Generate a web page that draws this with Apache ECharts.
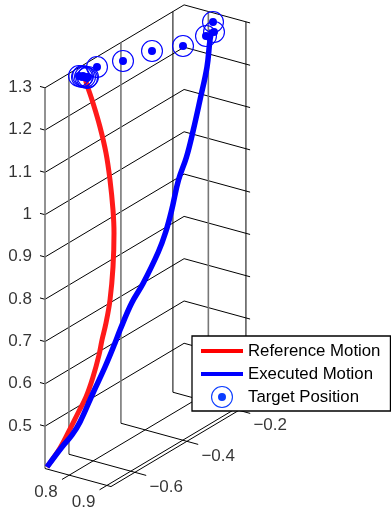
<!DOCTYPE html>
<html>
<head>
<meta charset="utf-8">
<script src="https://cdn.jsdelivr.net/npm/echarts@6/dist/echarts.min.js"></script>
<style>
html, body { margin: 0; padding: 0; background: #fff; }
#chart { width: 391px; height: 510px; }
</style>
</head>
<body>
<div id="chart"></div>
<script>
// axis ticks
var xTicks = [0.8, 0.9]
var yTicks = [-0.6, -0.4, -0.2]
var zTicks = [0.5, 0.6, 0.7, 0.8, 0.9, 1, 1.1, 1.2, 1.3]

// axis ranges of the 3d box
var xRange = [0.7355, 0.911]
var yRange = [-0.692, -0.157]
var zRange = [0.4, 1.3]

// traces in projected plane units
var referenceMotion = [[85, 78], [87, 85], [93, 103], [100, 127], [106, 153], [110, 180], [113, 210], [114, 233],
  [113, 267], [110, 300], [106, 323], [102, 340], [99, 355], [93, 377], [86, 397], [78, 413], [68, 433], [60, 448], [47, 467]]
var executedMotion = [[212, 30], [210, 40], [207, 67], [200, 100], [193.3, 130], [186.5, 157], [178.5, 180], [171.7, 210], [165.7, 232],
  [158.3, 252], [143.3, 283], [131.7, 303], [120, 330], [115, 343], [105, 367], [93, 393], [80, 422], [72, 435], [62, 447], [47, 467]]
var targetPosition = [[79, 76], [82, 77], [83, 76], [85, 77], [87, 78], [88, 77], [97, 67], [123, 61], [152, 51], [183, 46],
  [206, 36], [214, 32], [213, 22]]

// ring and dot, same shape on the chart and in the legend
var targetIcon = 'path://M11 0A11 11 0 0 1 11 22A11 11 0 0 1 11 0Z' +
  'M11 1.1A9.9 9.9 0 0 0 11 20.9A9.9 9.9 0 0 0 11 1.1Z' +
  'M11 7A4 4 0 0 1 11 15A4 4 0 0 1 11 7Z'

// legend stroke, the flat parts keep the row height the same as the ring
var lineIcon = 'path://M0 0H42H0Z M0 9H42V13H0Z M0 22H42H0Z'

// fixed view, same as the matlab figure
function project(x, y, z) {
  var dx = x - xRange[0]
  var dy = y - yRange[0]
  return [45 + dx * 376 + dy * 260, 468.5 + dx * 103 - dy * 155 - (z - zRange[0]) * 423]
}

function segment(points, color, width) {
  return {
    type: 'line',
    data: points,
    showSymbol: false,
    silent: true,
    lineStyle: { color: color || '#000', width: width || 1 },
    z: 1
  }
}

function tickLabels(items, position, align) {
  return {
    type: 'scatter',
    symbolSize: 0,
    silent: true,
    data: items,
    label: {
      show: true,
      position: position,
      align: align,
      verticalAlign: 'middle',
      fontFamily: 'Liberation Sans',
      fontSize: 17,
      color: '#000',
      formatter: function(p) {
        return String(p.value[2]).replace('-', '\u2212')
      }
    }
  }
}

var series = []

// horizontal lines on the two back walls
zTicks.forEach(function(z) {
  series.push(segment([
    project(xRange[0] - 0.0133, yRange[0], z),
    project(xRange[0], yRange[0], z),
    project(xRange[0], yRange[1], z),
    project(xRange[1], yRange[1], z)
  ]))
})

// verticals, the ones that landed between pixels look grey and wide in the figure
var grey = '#777'
series.push(segment([project(xRange[0], yRange[0], zRange[0]), project(xRange[0], yRange[0], zRange[1])], grey, 1.6))
yTicks.forEach(function(y) {
  var soft = y !== -0.2
  series.push(segment([project(xRange[0], y, zRange[0]), project(xRange[0], y, zRange[1])], soft ? grey : '#000', soft ? 1.6 : 1))
  series.push(segment([project(xRange[0], y, zRange[0]), project(xRange[1] + 0.03, y, zRange[0])]))
})
xTicks.forEach(function(x) {
  var soft = x === 0.8
  series.push(segment([project(x, yRange[1], zRange[1]), project(x, yRange[1], zRange[0])], soft ? grey : '#000', soft ? 1.6 : 1))
  series.push(segment([project(x, yRange[1], zRange[0]), project(x, yRange[0] - 0.028, zRange[0])]))
})

// floor edges
series.push(segment([project(xRange[0], yRange[0], zRange[0]), project(xRange[1], yRange[0], zRange[0]), project(xRange[1], yRange[1], zRange[0])]))

series.push(tickLabels(zTicks.map(function(z) {
  return project(xRange[0] - 0.0133, yRange[0], z).concat(z)
}), [-8, 1], 'right'))
series.push(tickLabels(xTicks.map(function(x) {
  return project(x, yRange[0] - 0.028, zRange[0]).concat(x)
}), [-16, 13], 'center'))
series.push(tickLabels(yTicks.map(function(y) {
  return project(xRange[1] + 0.03, y, zRange[0]).concat(y.toFixed(1))
}), [20, 12], 'center'))

series.push({
  name: 'Reference Motion',
  type: 'line',
  data: referenceMotion,
  smooth: 0.4,
  showSymbol: false,
  itemStyle: { color: '#ff0000' },
  lineStyle: { color: '#ff1a1a', width: 5 },
  z: 3
})
series.push({
  name: 'Executed Motion',
  type: 'line',
  data: executedMotion,
  smooth: 0.4,
  showSymbol: false,
  itemStyle: { color: '#0000ff' },
  lineStyle: { color: '#0000ff', width: 5.5 },
  z: 3
})
series.push({
  name: 'Target Position',
  type: 'scatter',
  data: targetPosition,
  symbol: targetIcon,
  symbolSize: 22,
  itemStyle: { color: '#0000ff', opacity: 1 },
  z: 4
})

var chart = echarts.init(document.getElementById('chart'), null, { renderer: 'canvas' })
chart.setOption({
  animation: false,
  backgroundColor: '#fff',
  grid: { left: 0, right: 0, top: 0, bottom: 0 },
  xAxis: { type: 'value', min: 0, max: 391, show: false },
  yAxis: { type: 'value', min: 0, max: 510, inverse: true, show: false },
  legend: {
    left: 192,
    top: 336,
    orient: 'vertical',
    selectedMode: false,
    backgroundColor: '#fff',
    borderColor: '#000',
    borderWidth: 1.3,
    padding: [4, 10, 3, 9],
    itemWidth: 42,
    itemHeight: 22,
    itemGap: 1,
    textStyle: { fontFamily: 'Liberation Sans', fontSize: 16.8, color: '#000' },
    data: [
      { name: 'Reference Motion', icon: lineIcon, itemStyle: { color: '#ff0000', borderWidth: 0 } },
      { name: 'Executed Motion', icon: lineIcon, itemStyle: { color: '#0000ff', borderWidth: 0 } },
      { name: 'Target Position', icon: targetIcon, itemStyle: { color: '#0a3cff', borderWidth: 0 } }
    ]
  },
  series: series
})
</script>
</body>
</html>
